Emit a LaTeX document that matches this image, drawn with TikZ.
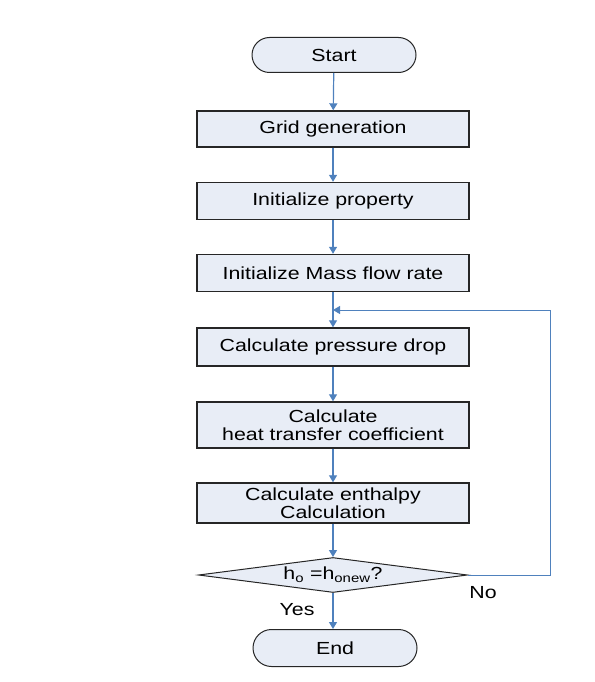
\documentclass[tikz,border=0pt]{standalone}
\usepackage{fontspec}
\setmainfont{Liberation Sans}[FakeStretch=1.22]
\usetikzlibrary{shapes.geometric,shapes.misc,arrows.meta}
\definecolor{boxfill}{RGB}{232,237,246}
\definecolor{flowblue}{RGB}{79,129,189}
\begin{document}
\begin{tikzpicture}[x=1pt,y=-1pt,
  every node/.style={font=\fontsize{17.5}{18}\selectfont},
  proc/.style={draw=black!85,line width=1.4pt,fill=boxfill,minimum width=272pt,align=center,inner sep=0pt},
  term/.style={draw=black!85,line width=1pt,fill=boxfill,rounded rectangle,minimum width=164pt,inner sep=0pt},
  dec/.style={draw=black!85,line width=1pt,fill=boxfill,diamond,aspect=7.7,minimum width=269pt,minimum height=35pt,inner sep=0pt},
  flow/.style={draw=flowblue,line width=1.2pt,-{Triangle[width=8pt,length=7pt]}}]
\useasboundingbox (0,0) rectangle (594,682);
\node[term,minimum height=35pt] (start) at (334,55) {Start};
\node[proc,minimum height=36pt] (grid) at (333,129) {Grid generation};
\node[proc,minimum height=37pt] (init) at (333,201) {Initialize property};
\node[proc,minimum height=37pt] (mass) at (333,273) {Initialize Mass flow rate};
\node[proc,minimum height=38pt] (pres) at (333,347) {Calculate pressure drop};
\node[proc,minimum height=46pt] (heat) at (333,425) {Calculate\\heat transfer coefficient};
\node[proc,minimum height=40pt] (enth) at (333,503) {Calculate enthalpy\\Calculation};
\node[dec] (dec) at (333,575) {h\textsubscript{o} =h\textsubscript{onew}?};
\node[term,minimum height=37pt] (end) at (335,648) {End};
\coordinate (c1) at (550,575);
\coordinate (c2) at (550,310);
\coordinate (c3) at (333,310);
\draw[flow] (start) -- (grid);
\draw[flow] (grid) -- (init);
\draw[flow] (init) -- (mass);
\draw[flow] (mass) -- (pres);
\draw[flow] (pres) -- (heat);
\draw[flow] (heat) -- (enth);
\draw[flow] (enth) -- (dec);
\draw[flow] (dec.south) -- (end.north -| dec.south);
\draw[flow,line width=1pt] (dec.east) -- (c1) -- (c2) -- (c3);
\node (yes) at (297,610) {Yes};
\node (no) at (483,593) {No};
\end{tikzpicture}
\end{document}
